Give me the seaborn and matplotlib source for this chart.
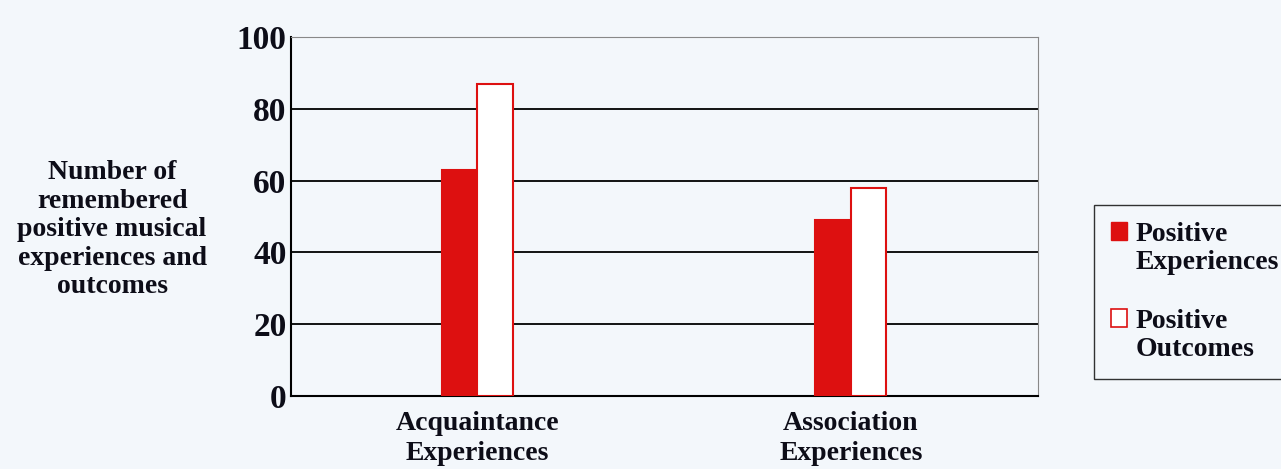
#Grouped bar chart of remembered positive musical experiences

#Import modules
import matplotlib.pyplot as plt
from matplotlib.patches import Patch, Rectangle
from matplotlib.legend_handler import HandlerPatch
import pandas as pd
import seaborn as sb

#Data
categories = ['Acquaintance\nExperiences', 'Association\nExperiences']
experiences = [63, 49]
outcomes = [87, 58]
series = ['Positive\nExperiences', 'Positive\nOutcomes']

df = pd.DataFrame({
    'Category': categories * 2,
    'Measure': [series[0]] * 2 + [series[1]] * 2,
    'Count': experiences + outcomes,
})

bg = '#f3f7fb'
red = '#dd1010'
ink = '#0d0d18'

sb.set_style('white')
plt.rcParams['font.family'] = ['Liberation Serif', 'DejaVu Serif']
plt.rcParams['font.weight'] = 'bold'
plt.rcParams['text.color'] = ink
plt.rcParams['xtick.color'] = ink
plt.rcParams['ytick.color'] = ink

fig = plt.figure(figsize = (12.81, 4.69), dpi = 100, facecolor = bg)
ax = fig.add_axes([0.227, 0.156, 0.583, 0.765])
ax.set_facecolor(bg)

sb.barplot(data = df, x = 'Category', y = 'Count', hue = 'Measure',
           palette = [red, 'white'], width = 0.19, edgecolor = red,
           linewidth = 1.5, saturation = 1, ax = ax, legend = False, zorder = 3)

#Gridlines and axis styling
ax.set_ylim(0, 100)
ax.set_xlim(-0.5, 1.5)
ax.set_yticks([0, 20, 40, 60, 80, 100])
for v in [20, 40, 60, 80]:
    ax.axhline(v, color = 'black', lw = 1.3, zorder = 1)
ax.spines['left'].set_color('black')
ax.spines['left'].set_linewidth(1.5)
ax.spines['bottom'].set_color('black')
ax.spines['bottom'].set_linewidth(1.5)
ax.spines['top'].set_color('#888888')
ax.spines['top'].set_linewidth(0.8)
ax.spines['right'].set_color('#888888')
ax.spines['right'].set_linewidth(0.8)
ax.tick_params(axis = 'y', labelsize = 24, length = 0, pad = 3)
ax.tick_params(axis = 'x', labelsize = 20, length = 0, pad = 11)
for t in ax.get_yticklabels():
    t.set_fontweight('bold')
for t in ax.get_xticklabels():
    t.set_fontweight('bold')
    t.set_linespacing(1.25)
ax.set_xlabel('')
ax.set_ylabel('')

#Horizontal y-axis label
fig.text(0.0875, 0.51, 'Number of\nremembered\npositive musical\nexperiences and\noutcomes',
         ha = 'center', va = 'center', fontsize = 20, fontweight = 'bold',
         linespacing = 1.18)

#Legend, square marker sitting next to the first line of each label
def top_square(legend, orig_handle, xdescent, ydescent, width, height, fontsize):
    return Rectangle((-xdescent, -ydescent + 0.62 * fontsize), width, height)

handles = [Patch(facecolor = red, edgecolor = red),
           Patch(facecolor = 'white', edgecolor = red, linewidth = 1.2)]
leg = fig.legend(handles, series, loc = 'upper left', bbox_to_anchor = (0.854, 0.563),
                 fontsize = 20, frameon = True, fancybox = False, edgecolor = 'black',
                 facecolor = bg, handlelength = 0.6, handleheight = 0.6,
                 handletextpad = 0.3, labelspacing = 1.22, borderpad = 0.6,
                 borderaxespad = 0,
                 handler_map = {Patch: HandlerPatch(patch_func = top_square)})
leg.get_frame().set_linewidth(1.0)
for t in leg.get_texts():
    t.set_fontweight('bold')
    t.set_linespacing(1.17)

fig.savefig('out.png', dpi = 100, facecolor = bg)
